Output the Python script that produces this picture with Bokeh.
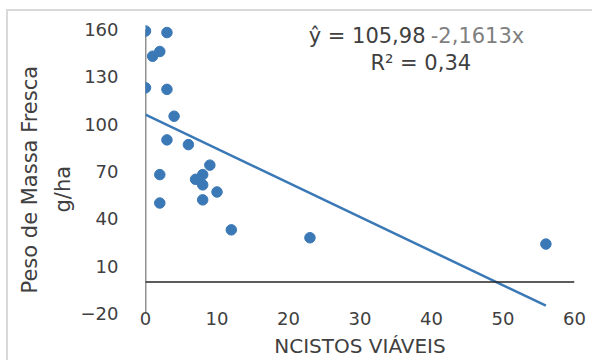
from bokeh.plotting import figure
from bokeh.models import Range1d, FixedTicker, Span, Label, Title, InlineStyleSheet
from bokeh.embed import file_html
from bokeh.resources import INLINE

# Data
ncistos = [0, 3, 1, 2, 0, 3, 4, 3, 6, 9, 2, 7, 8, 8, 10, 2, 8, 12, 23, 56]
peso = [159, 158, 143, 146, 123, 122, 105, 90, 87, 74, 68, 65, 68, 61.5, 57, 50, 52, 33, 28, 24]

# Trendline (from the equation shown on the chart)
intercept = 105.98
slope = -2.1613

x_ticks = [0, 10, 20, 30, 40, 50, 60]
y_ticks = [-20, 10, 40, 70, 100, 130, 160]

x_title = "NCISTOS VIÁVEIS"
y_title_1 = "Peso de Massa Fresca"
y_title_2 = "g/ha"
eq_part1 = "ŷ = 105,98"
eq_part2 = "-2,1613x"
r2_text = "R² = 0,34"

FONT = "DejaVu Sans"
BLUE = "#3a78b6"
DARK = "#404040"

border_css = InlineStyleSheet(css="""
:host::after { content: ''; position: absolute; left: 6px; top: 9px; right: 0; bottom: 0;
  border-top: 2px solid #d9d9d9; border-left: 2px solid #d9d9d9; pointer-events: none; z-index: 10; }
""")

p = figure(width=592, height=360, output_backend="svg", toolbar_location=None,
           x_range=Range1d(x_ticks[0], x_ticks[-1]), y_range=Range1d(y_ticks[0], 165),
           min_border_left=145, min_border_right=18, min_border_top=21, min_border_bottom=43)
p.outline_line_color = None
p.grid.grid_line_color = None
p.stylesheets = [border_css]

for ax in (p.xaxis, p.yaxis):
    ax.axis_line_color = None
    ax.major_tick_line_color = None
    ax.minor_tick_line_color = None
    ax.major_label_text_font = FONT
    ax.major_label_text_font_size = "18px"
    ax.major_label_text_color = DARK
p.xaxis.ticker = FixedTicker(ticks=x_ticks)
p.yaxis.ticker = FixedTicker(ticks=y_ticks)
p.xaxis.major_label_standoff = -8
p.yaxis.major_label_standoff = 21

p.xaxis.axis_label = x_title
p.xaxis.axis_label_text_font = FONT
p.xaxis.axis_label_text_font_size = "20px"
p.xaxis.axis_label_text_font_style = "normal"
p.xaxis.axis_label_text_color = DARK
p.xaxis.axis_label_standoff = 6

for txt, off, so in ((y_title_2, 101, 6), (y_title_1, 20, 8)):
    p.add_layout(Title(text=txt, align="left", offset=off, standoff=so,
                       text_font=FONT, text_font_size="21px", text_font_style="normal",
                       text_color=DARK), "left")

# axes lines
p.segment(x0=[x_ticks[0]], y0=[y_ticks[0]], x1=[x_ticks[0]], y1=[y_ticks[-1]],
          line_color="#262626", line_width=1.5)
p.add_layout(Span(location=0, dimension="width", line_color="#262626", line_width=1.5))

# trend line
xl = [0, max(ncistos)]
yl = [intercept + slope * v for v in xl]
p.line(xl, yl, line_color=BLUE, line_width=2.5)

# points
p.scatter(ncistos, peso, size=10.5, fill_color=BLUE, line_color=BLUE)

# equation texts
p.add_layout(Label(x=39.16, y=155.6, text=eq_part1, text_align="right",
                   text_baseline="alphabetic", text_font=FONT, text_font_size="21px", text_color=DARK))
p.add_layout(Label(x=39.9, y=155.6, text=eq_part2, text_align="left",
                   text_baseline="alphabetic", text_font=FONT, text_font_size="21px", text_color="#7f7f7f"))
p.add_layout(Label(x=38.5, y=138.7, text=r2_text, text_align="center",
                   text_baseline="alphabetic", text_font=FONT, text_font_size="21px", text_color=DARK))

open("out.html", "w").write(file_html(p, INLINE))
